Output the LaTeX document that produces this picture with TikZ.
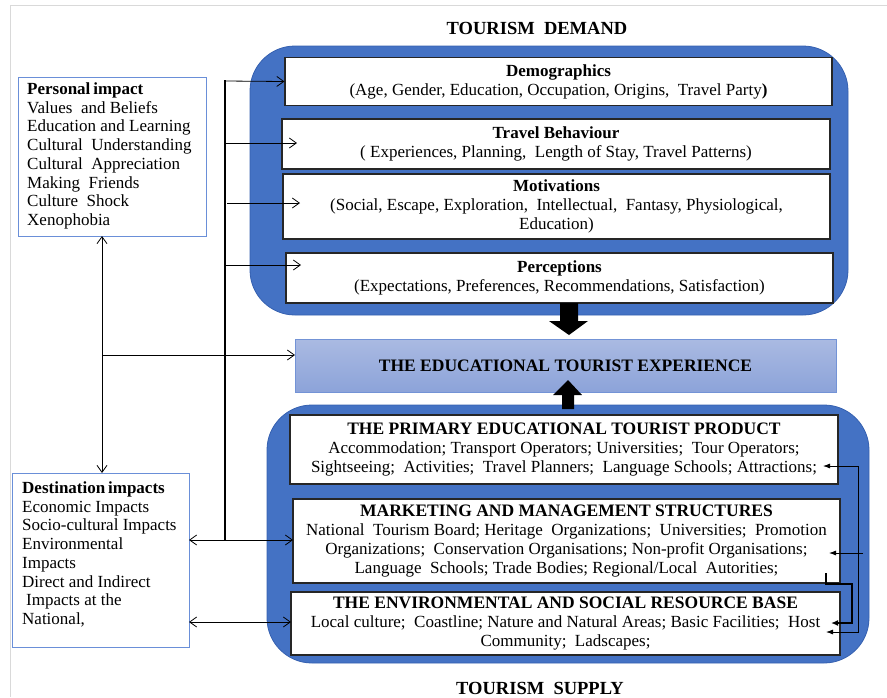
\documentclass[tikz,border=0pt]{standalone}
\usepackage{fontspec}
\setmainfont{Liberation Serif}
\usetikzlibrary{arrows.meta,calc}
\definecolor{bigblue}{HTML}{4472C4}
\definecolor{bigblueline}{HTML}{3560B0}
\definecolor{expTop}{HTML}{AABAE2}
\definecolor{expBot}{HTML}{8CA3D9}
\definecolor{expLine}{HTML}{7393D6}
\definecolor{impLine}{HTML}{6A8FD8}
\definecolor{frameGray}{HTML}{D9D9D9}
\newcommand{\hd}[1]{{\fontsize{17.5}{19}\selectfont\bfseries #1}}
\tikzset{
  bigpanel/.style={fill=bigblue, draw=bigblueline, line width=0.8pt, rounded corners=45pt},
  whitebox/.style={draw=black!85, fill=white, line width=1.1pt, inner sep=0pt, align=center,
     font=\fontsize{17}{19}\selectfont},
  impbox/.style={draw=impLine, fill=white, line width=1pt, inner sep=0pt},
  imptext/.style={inner sep=0pt, align=left, anchor=north west, font=\fontsize{17}{18.7}\selectfont},
  titletext/.style={font=\fontsize{18.5}{19}\selectfont\bfseries, inner sep=0pt},
  arr/.style={line width=0.8pt, -{Straight Barb[length=7pt,width=10pt]}},
  darr/.style={line width=0.8pt, {Straight Barb[length=7pt,width=10pt]}-{Straight Barb[length=7pt,width=10pt]}},
  smallarr/.style={line width=0.8pt, -{Latex[length=7pt,width=5pt]}},
  blockarr/.style={fill=black, draw=none},
}
\begin{document}
\begin{tikzpicture}[x=1pt,y=-1pt]
\useasboundingbox (0,0) rectangle (887,697);
% page frame
\draw[frameGray, line width=0.8pt] (887,5) -- (10,5) -- (10,697);

% titles
\node[titletext] (tdemand) at (537,28) {TOURISM\ \ DEMAND};
\node[titletext] (tsupply) at (540,688) {TOURISM\ \ SUPPLY};

% big blue panels
\path[bigpanel] (250,46) rectangle (848,315);
\path[bigpanel] (267,405) rectangle (869,663);

% demand boxes
\node[whitebox, minimum width=547, minimum height=48] (demo) at (558.5,81.5)
  {\textbf{Demographics}\\(Age, Gender, Education, Occupation, Origins, \ Travel Party\textbf{)}};
\node[whitebox, minimum width=548, minimum height=50] (trav) at (556,144)
  {\textbf{Travel Behaviour}\\( Experiences, Planning, \ Length of Stay, Travel Patterns)};
\node[whitebox, minimum width=547, minimum height=65] (motiv) at (556.5,206.5)
  {\textbf{Motivations}\\(Social, Escape, Exploration, \ Intellectual, \ Fantasy, Physiological,\\Education)};
\node[whitebox, minimum width=547, minimum height=50] (perc) at (559.5,278)
  {\textbf{Perceptions}\\(Expectations, Preferences, Recommendations, Satisfaction)};

% experience box
\node[draw=expLine, line width=1pt, top color=expTop, bottom color=expBot,
      minimum width=541, minimum height=53, inner sep=0pt,
      font=\fontsize{17.5}{19}\selectfont\bfseries] (exp) at (565.5,365.5)
  {\raisebox{-6pt}{THE EDUCATIONAL TOURIST EXPERIENCE}};

% supply boxes
\node[whitebox, minimum width=548, minimum height=69] (prim) at (564,449.5)
  {\hd{THE PRIMARY EDUCATIONAL TOURIST PRODUCT}\\Accommodation; Transport Operators; Universities; \ Tour Operators;\\Sightseeing; \ Activities; \ Travel Planners; \ Language Schools; Attractions;\hspace{12pt}};
\node[whitebox, minimum width=547, minimum height=84] (mark) at (566.5,541)
  {\hd{MARKETING AND MANAGEMENT STRUCTURES}\\National \ Tourism Board; Heritage \ Organizations; \ Universities; \ Promotion\\Organizations; \ Conservation Organisations; Non-profit Organisations;\hspace{10pt}\\Language \ Schools; Trade Bodies; Regional/Local \ Autorities;\hspace{14pt}};
\node[whitebox, minimum width=549, minimum height=63] (env) at (565.5,623.5)
  {\hd{THE ENVIRONMENTAL AND SOCIAL RESOURCE BASE}\\Local culture; \ Coastline; Nature and Natural Areas; Basic Facilities; \ Host\\Community; \ Ladscapes;\hspace{70pt}};

% block arrows
\path[blockarr] (560,303) -- (578,303) -- (578,321) -- (588,321) -- (569,335) -- (549,321) -- (560,321) -- cycle;
\path[blockarr] (562,409) -- (574,409) -- (574,395) -- (582,395) -- (568,380) -- (553,395) -- (562,395) -- cycle;

% impact boxes
\node[impbox, minimum width=188, minimum height=159] (pers) at (112,156.5) {};
\node[imptext] (perstxt) at (27,82.5)
  {\textbf{Personal\,impact}\\Values \ and Beliefs\\Education and Learning\\Cultural \ Understanding\\Cultural \ Appreciation\\Making \ Friends\\Culture \ Shock\\Xenophobia};
\node[impbox, minimum width=177, minimum height=174] (dest) at (100.5,560) {};
\node[imptext] (desttxt) at (22,481.5)
  {\textbf{Destination\,impacts}\\Economic Impacts\\Socio-cultural Impacts\\Environmental\\Impacts\\Direct and Indirect\\\hspace{4pt}Impacts at the\\National,};

% coordinates for connectors
\coordinate (vt) at (225,80);
\coordinate (vb) at (225,540);
\coordinate (v1) at (225,81);
\coordinate (v2) at (225,143);
\coordinate (t2) at (297,143);
\coordinate (v3) at (227,203);
\coordinate (t3) at (300,203);
\coordinate (v4) at (225,265);
\coordinate (t4) at (301,265);
\coordinate (d1) at (189,540);
\coordinate (m1) at (293,540);
\coordinate (d2) at (189,622);
\coordinate (e2) at (291,622);
\coordinate (pb) at (102,236);
\coordinate (dt) at (102,473);
\coordinate (lm) at (102,355);
\coordinate (ex) at (295,355);

% left connectors
\draw[line width=1.5pt] (vt) -- (vb);
\draw[arr] (v1) -- (demo.west);
\draw[arr] (v2) -- (t2);
\draw[arr] (v3) -- (t3);
\draw[arr] (v4) -- (t4);
\draw[darr] (d1) -- (m1);
\draw[darr] (d2) -- (e2);
\draw[darr] (pb) -- (dt);
\draw[arr] (lm) -- (ex);

% right connectors
\coordinate (ra) at (823,466);
\coordinate (rb) at (858,466);
\coordinate (rc) at (858,632);
\coordinate (rd) at (826,632);
\draw[line width=0.8pt, {Latex[length=7pt,width=5pt]}-{Latex[length=7pt,width=5pt]}] (ra) -- (rb) -- (rc) -- (rd);
\coordinate (ma) at (863,553);
\coordinate (mb) at (829,553);
\draw[smallarr] (ma) -- (mb);
\coordinate (ka) at (826,573);
\coordinate (kb) at (826,584);
\coordinate (kc) at (852,584);
\coordinate (kd) at (852,623);
\coordinate (ke) at (831,623);
\draw[line width=2pt, -{Latex[length=7pt,width=6pt]}] (ka) -- (kb) -- (kc) -- (kd) -- (ke);
\end{tikzpicture}
\end{document}
